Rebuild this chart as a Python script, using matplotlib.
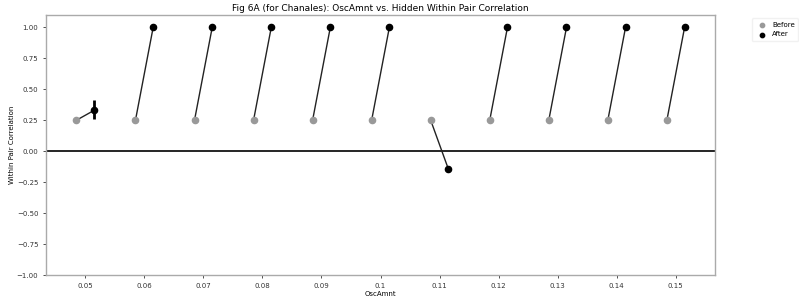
import matplotlib
matplotlib.use("Agg")
import matplotlib.pyplot as plt
import numpy as np

osc_amnt = [0.05, 0.06, 0.07, 0.08, 0.09, 0.10, 0.11, 0.12, 0.13, 0.14, 0.15]
before = [0.25, 0.25, 0.25, 0.25, 0.25, 0.25, 0.25, 0.25, 0.25, 0.25, 0.25]
after = [0.33, 1.0, 1.0, 1.0, 1.0, 1.0, -0.145, 1.0, 1.0, 1.0, 1.0]
after_err_low = [0.07, 0, 0, 0, 0, 0, 0, 0, 0, 0, 0]
after_err_high = [0.08, 0, 0, 0, 0, 0, 0, 0, 0, 0, 0]
tick_labels = ["0.05", "0.06", "0.07", "0.08", "0.09", "0.1", "0.11", "0.12", "0.13", "0.14", "0.15"]

offset = 0.0015
fig = plt.figure(figsize=(7.99, 3.07), dpi=100)
ax = fig.add_axes([46/799, 32/307, 669/799, 260/307])

xb = np.array(osc_amnt) - offset
xa = np.array(osc_amnt) + offset
for i in range(len(osc_amnt)):
    ax.plot([xb[i], xa[i]], [before[i], after[i]], color="#222222", lw=1.0, zorder=2)
ax.errorbar(xa, after, yerr=[after_err_low, after_err_high], fmt="none",
            ecolor="black", elinewidth=2, zorder=3)
ax.scatter(xb, before, color="#999999", s=20, zorder=4, label="Before")
ax.scatter(xa, after, color="black", s=20, zorder=4, label="After")
ax.axhline(0, color="black", lw=1.2, zorder=1)

ax.set_ylim(-1.0, 1.1)
ax.set_xticks(osc_amnt)
ax.set_xticklabels(tick_labels)
ax.set_yticks([-1.0, -0.75, -0.5, -0.25, 0.0, 0.25, 0.5, 0.75, 1.0])
ax.tick_params(labelsize=5, length=2, width=0.6, colors="#333333")
for s in ax.spines.values():
    s.set_color("#aaaaaa")
    s.set_linewidth(1.0)
ax.set_title("Fig 6A (for Chanales): OscAmnt vs. Hidden Within Pair Correlation", fontsize=6.5, pad=3)
ax.set_xlabel("OscAmnt", fontsize=5, labelpad=2)
ax.set_ylabel("Within Pair Correlation", fontsize=5, labelpad=1)
ax.legend(loc="upper left", bbox_to_anchor=(1.05, 1.0), fontsize=5, frameon=True,
          markerscale=0.7, handletextpad=0.4, borderpad=0.5, edgecolor="#eeeeee")

fig.savefig("out.png", dpi=100)
